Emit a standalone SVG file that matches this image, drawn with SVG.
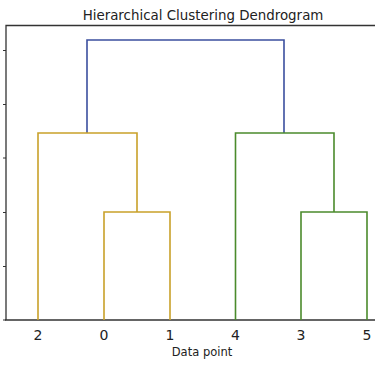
<svg xmlns="http://www.w3.org/2000/svg" width="375" height="366" viewBox="0 0 375 366">
<style>
text{font-family:"DejaVu Sans","Liberation Sans",sans-serif;fill:#222;}
.spine{stroke:#333;stroke-width:1.3;fill:none;}
.tick{stroke:#333;stroke-width:1.2;}
.link{fill:none;stroke-width:1.6;}
.b{stroke:#3b4f9f;}
.o{stroke:#c9a12a;}
.g{stroke:#4b8b2c;}
.tl{font-size:14px;text-anchor:middle;}
</style>
<rect width="375" height="366" fill="#fff"/>
<text x="203" y="19.5" font-size="13.4" text-anchor="middle">Hierarchical Clustering Dendrogram</text>
<g id="axes">
<path class="spine" d="M6,320 V25.5 H375 M5,320 H375"/>
<path class="tick" d="M3,50.5 H6 M3,104.5 H6 M3,158 H6 M3,212.5 H6 M3,266.5 H6 M3,320 H6"/>
</g>
<g id="connectors">
<path class="link b" d="M87,133 V40 H284 V133"/>
<path class="link o" d="M38,320 V133 H137 V212"/>
<path class="link o" d="M104,320 V212 H170 V320"/>
<path class="link g" d="M235.5,320 V133 H334 V212"/>
<path class="link g" d="M301,320 V212 H367 V320"/>
</g>
<g id="labels">
<text class="tl" x="38" y="340">2</text>
<text class="tl" x="104" y="340">0</text>
<text class="tl" x="170" y="340">1</text>
<text class="tl" x="235.5" y="340">4</text>
<text class="tl" x="301" y="340">3</text>
<text class="tl" x="367" y="340">5</text>
<text x="202" y="356" font-size="11.5" text-anchor="middle">Data point</text>
</g>
</svg>
